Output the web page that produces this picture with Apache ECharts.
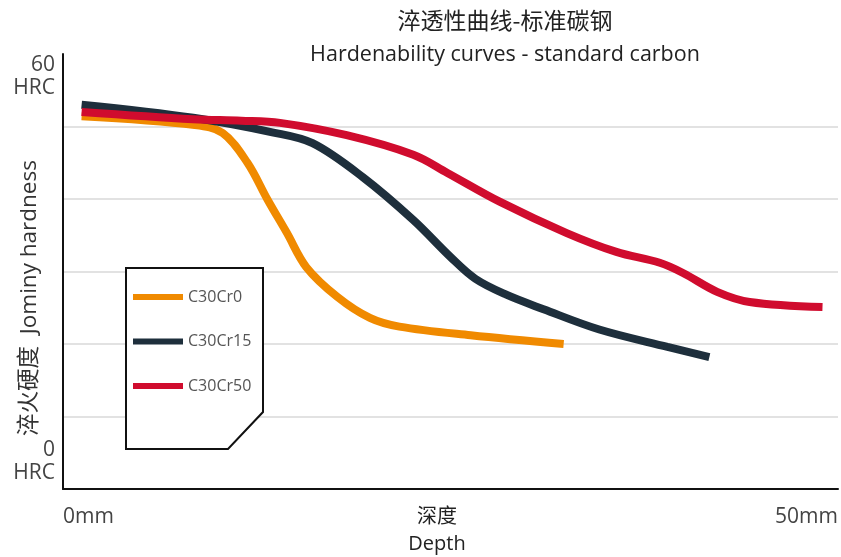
<!DOCTYPE html>
<html><head><meta charset="utf-8">
<script src="https://cdn.jsdelivr.net/npm/echarts@6/dist/echarts.min.js"></script>
<style>html,body{margin:0;padding:0;background:#fff}#c{width:841px;height:557px}</style>
</head><body><div id="c"></div>
<script>
const seriesNames = ['C30Cr0', 'C30Cr15', 'C30Cr50'];
const colors = ['#F08A00', '#1E2F3C', '#D00C2E'];
// [depth mm, HRC]
const c30cr0 = [[1.2,51.4],[8.5,50.2],[10.3,49.1],[11.9,45.0],[13.2,39.9],[14.45,35.3],[15.7,30.6],[17.7,26.5],[19.8,23.6],[21.7,22.4],[26.3,21.2],[32.3,20.0]];
const c30cr15 = [[1.2,53.0],[8.4,51.2],[13.5,49.2],[16.1,47.7],[19.35,43.0],[22.6,37.1],[25.0,32.0],[26.6,29.0],[28.6,26.8],[31.0,24.8],[34.6,22.0],[39.0,19.6],[41.7,18.2]];
const c30cr50 = [[1.2,52.0],[8.4,51.0],[11.5,50.8],[14.0,50.5],[18.3,48.8],[22.6,46.1],[24.8,43.6],[28.2,39.6],[32.5,35.3],[35.7,32.7],[38.5,31.2],[40.0,29.8],[42.2,27.2],[44.3,25.8],[49.0,25.1]];
const xTicks = {0: '0mm', 50: '50mm'};
const yTicks = {0: '0\nHRC', 60: '60\nHRC'};
const titleZh = '淬透性曲线-标准碳钢';
const titleEn = 'Hardenability curves - standard carbon';
const yName = '淬火硬度  Jominy hardness';
const xName = '深度\nDepth';

const font = '"Open Sans", "Noto Sans CJK SC", sans-serif';
const chart = echarts.init(document.getElementById('c'), null, {renderer: 'canvas'});
const data = [c30cr0, c30cr15, c30cr50];
chart.setOption({
  animation: false,
  grid: {left: 63, right: 3, top: 54, bottom: 68},
  xAxis: {
    type: 'value', min: 0, max: 50, interval: 50,
    axisLine: {lineStyle: {color: '#111', width: 2}},
    axisTick: {show: false},
    splitLine: {show: false},
    axisLabel: {
      formatter: v => xTicks[v] || '', color: '#444', fontSize: 21, fontFamily: font,
      margin: 18, alignMinLabel: 'left', alignMaxLabel: 'right'
    }
  },
  yAxis: {
    type: 'value', min: 0, max: 60, interval: 10,
    axisLine: {show: true, lineStyle: {color: '#111', width: 2}},
    axisTick: {show: false},
    splitLine: {show: true, showMinLine: false, showMaxLine: false, lineStyle: {color: '#d9d9d9', width: 1.5}},
    axisLabel: {
      formatter: v => yTicks[v] || '', color: '#444', fontSize: 21, lineHeight: 23, fontFamily: font,
      margin: 8, align: 'right', verticalAlignMinLabel: 'bottom', verticalAlignMaxLabel: 'top',
      padding: [0, 0, 4, 0]
    }
  },
  legend: {
    orient: 'vertical', left: 133, top: 289, padding: 0, itemWidth: 50, itemHeight: 6, itemGap: 28.5, icon: 'rect', z: 10,
    data: seriesNames,
    textStyle: {color: '#555', fontSize: 16, fontFamily: font}
  },
  graphic: [
    {type: 'text', x: 505, y: 20, z: 10, style: {text: titleZh, fill: '#222', font: '23px "Noto Sans CJK SC"', textAlign: 'center', textVerticalAlign: 'middle'}},
    {type: 'text', x: 505, y: 55, z: 10, style: {text: titleEn, fill: '#222', font: '21.5px ' + font, textAlign: 'center', textVerticalAlign: 'middle'}},
    {type: 'text', x: 30, y: 298, rotation: Math.PI / 2, z: 10, style: {text: yName, fill: '#333', font: '22.5px ' + font, textAlign: 'center', textVerticalAlign: 'middle'}},
    {type: 'text', x: 437, y: 504, z: 10, style: {text: xName, fill: '#222', font: '20px ' + font, textAlign: 'center', lineHeight: 27}},
    {type: 'polygon', z: 3, shape: {points: [[126,268],[263,268],[263,412],[228,449],[126,449]]}, style: {fill: '#fff', stroke: '#111', lineWidth: 2}}
  ],
  series: seriesNames.map((n, i) => ({
    name: n, type: 'line', data: data[i], smooth: 0.35, showSymbol: false, symbol: 'none', z: 2,
    color: colors[i], lineStyle: {width: 8, color: colors[i], cap: 'butt'}
  }))
});
</script></body></html>
